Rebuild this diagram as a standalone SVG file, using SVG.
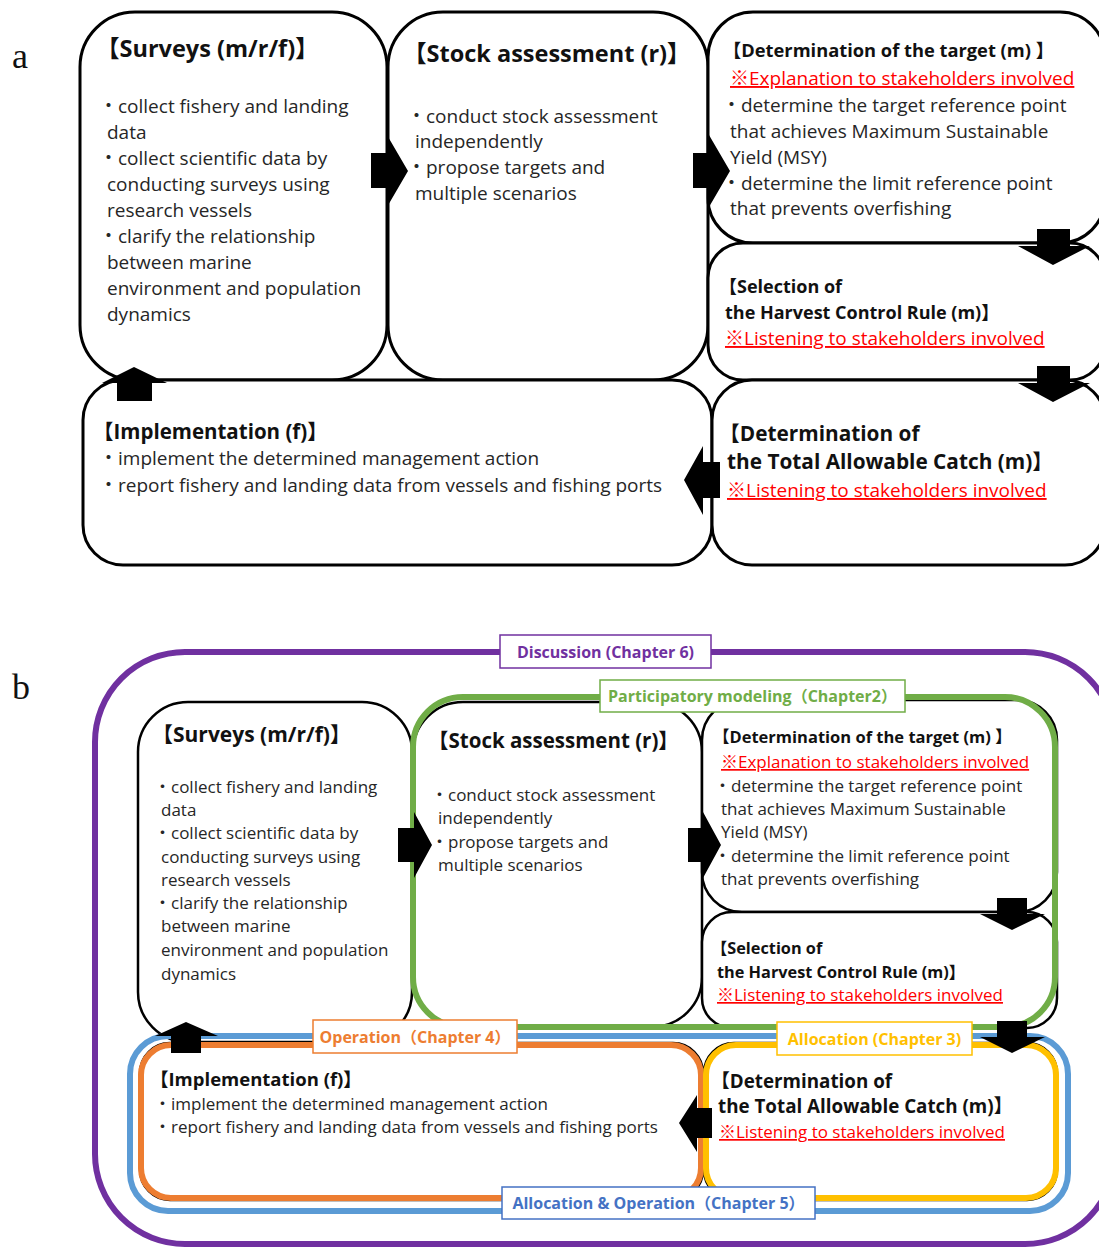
<svg xmlns="http://www.w3.org/2000/svg" width="1099" height="1248" viewBox="0 0 1099 1248">
  <style>
    .box { fill: #fff; stroke: #000; stroke-width: 3; }
    .boxb { fill: #fff; stroke: #000; stroke-width: 2.5; }
    .frame { fill: none; stroke-width: 6; }
    .tag { fill: #fff; stroke-width: 1.5; }
    .t { font-family: "Open Sans", "Noto Sans CJK JP", sans-serif; }
    .ttl { font-weight: bold; fill: #111; }
    .body { fill: #262626; }
    .note { fill: #f00; text-decoration: underline; }
    .tagtxt { font-weight: bold; font-size: 16px; text-anchor: middle; }
    .panel { font-family: "Liberation Serif", serif; font-size: 36px; fill: #111; }
    .arrow { fill: #000; }
  </style>

  <!-- panel labels -->
  <text class="panel" x="12" y="68">a</text>
  <text class="panel" x="12" y="699">b</text>

  <!-- ===== Panel a: management cycle ===== -->
  <g id="a-surveys">
    <rect class="box" x="80" y="12" width="307" height="368" rx="55"/>
    <text class="t ttl" x="96" y="57" font-size="23.5">【Surveys (m/r/f)】</text>
    <text class="t body" font-size="19">
      <tspan x="99" y="113">・collect fishery and landing</tspan>
      <tspan x="107" y="139">data</tspan>
      <tspan x="99" y="165">・collect scientific data by</tspan>
      <tspan x="107" y="191">conducting surveys using</tspan>
      <tspan x="107" y="217">research vessels</tspan>
      <tspan x="99" y="243">・clarify the relationship</tspan>
      <tspan x="107" y="269">between marine</tspan>
      <tspan x="107" y="295">environment and population</tspan>
      <tspan x="107" y="321">dynamics</tspan>
    </text>
  </g>

  <g id="a-stock">
    <rect class="box" x="388" y="12" width="320" height="368" rx="55"/>
    <text class="t ttl" x="403" y="62" font-size="23.5">【Stock assessment (r)】</text>
    <text class="t body" font-size="19">
      <tspan x="407" y="123">・conduct stock assessment</tspan>
      <tspan x="415" y="148">independently</tspan>
      <tspan x="407" y="174">・propose targets and</tspan>
      <tspan x="415" y="200">multiple scenarios</tspan>
    </text>
  </g>

  <g id="a-target">
    <rect class="box" x="708" y="12" width="397" height="231" rx="45"/>
    <text class="t ttl" x="723" y="57" font-size="18.3">【Determination of the target (m) 】</text>
    <text class="t note" x="730" y="85" font-size="19">※Explanation to stakeholders involved</text>
    <text class="t body" font-size="19">
      <tspan x="722" y="112">・determine the target reference point</tspan>
      <tspan x="730" y="138">that achieves Maximum Sustainable</tspan>
      <tspan x="730" y="164">Yield (MSY)</tspan>
      <tspan x="722" y="190">・determine the limit reference point</tspan>
      <tspan x="730" y="215">that prevents overfishing</tspan>
    </text>
  </g>

  <g id="a-hcr">
    <rect class="box" x="708" y="243" width="397" height="137" rx="35"/>
    <text class="t ttl" font-size="18">
      <tspan x="719" y="293">【Selection of</tspan>
      <tspan x="725" y="319">the Harvest Control Rule (m)】</tspan>
    </text>
    <text class="t note" x="725" y="345" font-size="19">※Listening to stakeholders involved</text>
  </g>

  <g id="a-implementation">
    <rect class="box" x="83" y="380" width="629" height="185" rx="40"/>
    <text class="t ttl" x="93" y="439" font-size="20.5">【Implementation (f)】</text>
    <text class="t body" font-size="19">
      <tspan x="99" y="465">・implement the determined management action</tspan>
      <tspan x="99" y="492">・report fishery and landing data from vessels and fishing ports</tspan>
    </text>
  </g>

  <g id="a-tac">
    <rect class="box" x="712" y="380" width="393" height="185" rx="40"/>
    <text class="t ttl" font-size="20.8">
      <tspan x="719" y="441">【Determination of</tspan>
      <tspan x="727" y="469">the Total Allowable Catch (m)】</tspan>
    </text>
    <text class="t note" x="727" y="497" font-size="19">※Listening to stakeholders involved</text>
  </g>

  <g id="a-connectors">
    <path class="arrow" d="M371,153 H387 V135 L408,171 L387,207 V188 H371 Z"/>
    <path class="arrow" d="M693,153 H709 V135 L730,171 L709,207 V188 H693 Z"/>
    <path class="arrow" d="M1037,229 H1070 V246 H1090 L1053,265 L1018,246 H1037 Z"/>
    <path class="arrow" d="M1037,366 H1070 V383 H1090 L1053,402 L1018,383 H1037 Z"/>
    <path class="arrow" d="M720,462 V498 H703 V515 L684,480 L703,446 V462 Z"/>
    <path class="arrow" d="M117,401 V383 H102 L134,367 L167,383 H152 V401 Z"/>
  </g>

  <!-- ===== Panel b: cycle with chapter groupings ===== -->
  <g id="b-surveys">
    <rect class="boxb" x="138" y="702" width="274" height="340" rx="50"/>
    <text class="t ttl" x="152" y="742" font-size="21">【Surveys (m/r/f)】</text>
    <text class="t body" font-size="17">
      <tspan x="154" y="793">・collect fishery and landing</tspan>
      <tspan x="161" y="816">data</tspan>
      <tspan x="154" y="839">・collect scientific data by</tspan>
      <tspan x="161" y="863">conducting surveys using</tspan>
      <tspan x="161" y="886">research vessels</tspan>
      <tspan x="154" y="909">・clarify the relationship</tspan>
      <tspan x="161" y="932">between marine</tspan>
      <tspan x="161" y="956">environment and population</tspan>
      <tspan x="161" y="980">dynamics</tspan>
    </text>
  </g>

  <g id="b-stock">
    <rect class="boxb" x="413" y="702" width="289" height="325" rx="50"/>
    <text class="t ttl" x="428" y="748" font-size="20.5">【Stock assessment (r)】</text>
    <text class="t body" font-size="17">
      <tspan x="431" y="801">・conduct stock assessment</tspan>
      <tspan x="438" y="824">independently</tspan>
      <tspan x="431" y="848">・propose targets and</tspan>
      <tspan x="438" y="871">multiple scenarios</tspan>
    </text>
  </g>

  <g id="b-target">
    <rect class="boxb" x="702" y="700" width="355" height="212" rx="40"/>
    <text class="t ttl" x="713" y="743" font-size="16.5">【Determination of the target (m) 】</text>
    <text class="t note" x="721" y="768" font-size="17">※Explanation to stakeholders involved</text>
    <text class="t body" font-size="17">
      <tspan x="714" y="792">・determine the target reference point</tspan>
      <tspan x="721" y="815">that achieves Maximum Sustainable</tspan>
      <tspan x="721" y="838">Yield (MSY)</tspan>
      <tspan x="714" y="862">・determine the limit reference point</tspan>
      <tspan x="721" y="885">that prevents overfishing</tspan>
    </text>
  </g>

  <g id="b-hcr">
    <rect class="boxb" x="702" y="912" width="355" height="116" rx="30"/>
    <text class="t ttl" font-size="16.3">
      <tspan x="711" y="954">【Selection of</tspan>
      <tspan x="717" y="978">the Harvest Control Rule (m)】</tspan>
    </text>
    <text class="t note" x="717" y="1001" font-size="17">※Listening to stakeholders involved</text>
  </g>

  <g id="b-implementation">
    <rect class="boxb" x="140" y="1043" width="563" height="157" rx="30"/>
    <text class="t ttl" x="150" y="1086" font-size="18.5">【Implementation (f)】</text>
    <text class="t body" font-size="17">
      <tspan x="154" y="1110">・implement the determined management action</tspan>
      <tspan x="154" y="1133">・report fishery and landing data from vessels and fishing ports</tspan>
    </text>
  </g>

  <g id="b-tac">
    <rect class="boxb" x="704" y="1043" width="353" height="157" rx="30"/>
    <text class="t ttl" font-size="18.8">
      <tspan x="711" y="1088">【Determination of</tspan>
      <tspan x="718" y="1113">the Total Allowable Catch (m)】</tspan>
    </text>
    <text class="t note" x="719" y="1138" font-size="17">※Listening to stakeholders involved</text>
  </g>

  <!-- chapter frames -->
  <g id="b-frames">
    <rect class="frame" x="95" y="652" width="1020" height="592" rx="90" stroke="#7030A0"/>
    <rect class="frame" x="413" y="697" width="642" height="330" rx="50" stroke="#70AD47"/>
    <rect class="frame" x="130" y="1036" width="938" height="175" rx="38" stroke="#5B9BD5"/>
    <rect class="frame" x="141" y="1045" width="560" height="153" rx="30" stroke="#ED7D31"/>
    <rect class="frame" x="706" y="1045" width="350" height="153" rx="30" stroke="#FFC000"/>
  </g>

  <g id="b-connectors">
    <path class="arrow" d="M398,828 H414 V812 L432,845 L414,878 V862 H398 Z"/>
    <path class="arrow" d="M688,828 H703 V812 L721,845 L703,878 V862 H688 Z"/>
    <path class="arrow" d="M997,898 H1027 V914 H1045 L1012,930 L980,914 H997 Z"/>
    <path class="arrow" d="M997,1021 H1027 V1037 H1045 L1012,1053 L980,1037 H997 Z"/>
    <path class="arrow" d="M712,1108 V1138 H697 V1152 L679,1123 L697,1095 V1108 Z"/>
    <path class="arrow" d="M171,1053 V1036 H155 L186,1022 L218,1036 H201 V1053 Z"/>
  </g>

  <!-- chapter tags -->
  <g id="tag-discussion">
    <rect class="tag" x="500" y="635" width="211" height="33" stroke="#7030A0"/>
    <text class="t tagtxt" x="605.5" y="658" fill="#7030A0">Discussion (Chapter 6)</text>
  </g>
  <g id="tag-participatory">
    <rect class="tag" x="600" y="680" width="305" height="32" stroke="#70AD47"/>
    <text class="t tagtxt" x="752.5" y="702" fill="#70AD47">Participatory modeling（Chapter2）</text>
  </g>
  <g id="tag-operation">
    <rect class="tag" x="313" y="1020" width="204" height="33" stroke="#ED7D31"/>
    <text class="t tagtxt" x="415" y="1043" fill="#ED7D31">Operation（Chapter 4）</text>
  </g>
  <g id="tag-allocation">
    <rect class="tag" x="777" y="1022" width="195" height="33" stroke="#FFC000"/>
    <text class="t tagtxt" x="874.5" y="1045" fill="#FFC000">Allocation (Chapter 3)</text>
  </g>
  <g id="tag-allocation-operation">
    <rect class="tag" x="502" y="1187" width="313" height="32" stroke="#4472C4"/>
    <text class="t tagtxt" x="658.5" y="1209" fill="#4472C4">Allocation &amp; Operation（Chapter 5）</text>
  </g>
</svg>
